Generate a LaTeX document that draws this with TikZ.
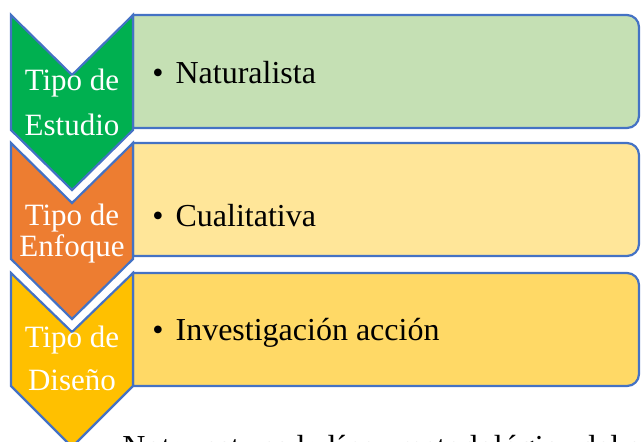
\documentclass[tikz,border=0pt]{standalone}
\usepackage{fontspec}
\setmainfont{Liberation Serif}
\usepackage{tikz}
\definecolor{edgeBlue}{HTML}{4472C4}
\definecolor{stepGreen}{HTML}{00B050}
\definecolor{stepOrange}{HTML}{ED7D31}
\definecolor{stepGold}{HTML}{FFC000}
\definecolor{boxGreen}{HTML}{C5E0B4}
\definecolor{boxOrange}{HTML}{FFE699}
\definecolor{boxGold}{HTML}{FFD966}
\tikzstyle{chevronStyle}=[draw = edgeBlue, line width = 1.1pt, line join = miter]
\tikzstyle{boxStyle}=[draw = edgeBlue, line width = 1.1pt]
\tikzstyle{stepLabel}=[text = white, inner sep = 0pt, anchor = base, font = \fontsize{15.5}{18}\selectfont]
\tikzstyle{itemLabel}=[text = black, inner sep = 0pt, anchor = base west, font = \fontsize{16}{19}\selectfont]

\begin{document}
\begin{tikzpicture}[x = 0.5pt, y = -0.5pt]
\useasboundingbox (0,0) rectangle (641,441);
% boxes (square on the left, round on the right)
\draw[boxStyle, fill = boxGreen] (133,15) -- (627,15) arc[start angle = -90, end angle = 0, radius = 12]
 -- (639,116) arc[start angle = 0, end angle = 90, radius = 12] -- (133,128) -- cycle;
\draw[boxStyle, fill = boxOrange] (133,143) -- (627,143) arc[start angle = -90, end angle = 0, radius = 12]
 -- (639,244) arc[start angle = 0, end angle = 90, radius = 12] -- (133,256) -- cycle;
\draw[boxStyle, fill = boxGold] (133,273) -- (627,273) arc[start angle = -90, end angle = 0, radius = 12]
 -- (639,374) arc[start angle = 0, end angle = 90, radius = 12] -- (133,386) -- cycle;
% chevrons
\draw[chevronStyle, fill = stepGreen] (11,15) -- (72,75) -- (133,15) -- (133,130) -- (72,190) -- (11,130) -- cycle;
\draw[chevronStyle, fill = stepOrange] (11,143) -- (72,203) -- (133,143) -- (133,259) -- (72,319) -- (11,259) -- cycle;
\draw[chevronStyle, fill = stepGold] (11,273) -- (72,332) -- (133,273) -- (133,386) -- (72,447) -- (11,386) -- cycle;
% chevron texts
\node[stepLabel] (l0a) at (72,90.5) {Tipo de};
\node[stepLabel] (l0b) at (72,135.5) {Estudio};
\node[stepLabel] (l1a) at (72,225) {Tipo de};
\node[stepLabel] (l1b) at (72,256.5) {Enfoque};
\node[stepLabel] (l2a) at (72,347) {Tipo de};
\node[stepLabel] (l2b) at (72,390) {Diseño};
% box items
\node[itemLabel] (i0) at (152,83) {•\hspace{6pt}Naturalista};
\node[itemLabel] (i1) at (152,226) {•\hspace{6pt}Cualitativa};
\node[itemLabel] (i2) at (152,340) {•\hspace{6pt}Investigación acción};
% note under the figure, cut by the page
\node[itemLabel] (nota) at (122,457.5) {Nota: esta es la línea metodológica del estudio de investigación};
\end{tikzpicture}
\end{document}
